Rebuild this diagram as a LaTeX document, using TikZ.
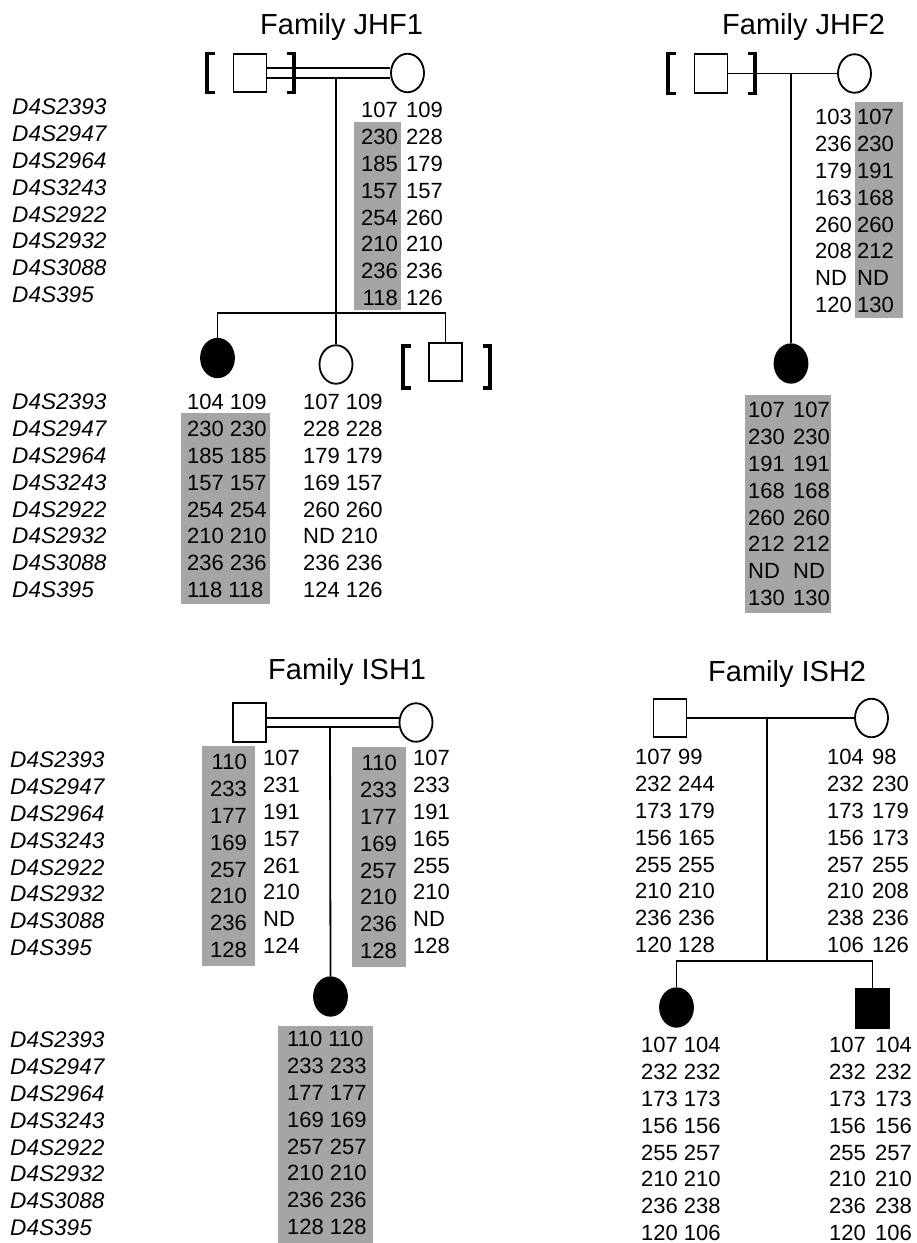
\documentclass[tikz,border=0pt]{standalone}
\usepackage{fontspec}
\setmainfont{Liberation Sans}
\usetikzlibrary{shapes.geometric,calc}
\definecolor{hapgray}{RGB}{165,165,165}
\tikzset{
  sym/.style={draw, line width=1.8pt, inner sep=0pt, minimum width=33pt, minimum height=38.5pt},
  male/.style={sym, rectangle},
  female/.style={sym, ellipse},
  affected/.style={fill=black},
  geno/.style={font=\fontsize{22}{26}\selectfont, inner sep=0pt},
  marker/.style={font=\fontsize{22.6}{26}\selectfont\itshape, inner sep=0pt, anchor=base west},
  famtitle/.style={font=\fontsize{29}{34}\selectfont, inner sep=0pt, anchor=base west},
  link/.style={line width=1.8pt},
  brk/.style={line width=3.4pt},
  hap/.style={fill=hapgray},
}
% one column of alleles: name prefix, anchor, x, y of first row, values
\newcommand\genorows[5]{%
  \foreach \t [count=\i] in {#5}{
    \node[geno, anchor=#2] (#1-\i) at (#3, {#4+26.8*(\i-1)+7.8}) {\t};
  }}
% the eight marker names
\newcommand\markerrows[3]{%
  \foreach \t [count=\i] in {D4S2393,D4S2947,D4S2964,D4S3243,D4S2922,D4S2932,D4S3088,D4S395}{
    \node[marker] (#1-\i) at (#2, {#3+26.8*(\i-1)+7.8}) {\t};
  }}
% square brackets round an individual
\newcommand\lbracket[3]{\draw[brk] (#1+7.5,#2) -- (#1,#2) -- (#1,#3) -- (#1+7.5,#3);}
\newcommand\rbracket[3]{\draw[brk] (#1-7.5,#2) -- (#1,#2) -- (#1,#3) -- (#1-7.5,#3);}

\begin{document}
\begin{tikzpicture}[x=1pt,y=-1pt]
\useasboundingbox (0,0) rectangle (917,1243);

% ---------- shaded haplotypes ----------
\fill[hap] (354,122) rectangle (401,310);
\fill[hap] (181,413) rectangle (270,604);
\fill[hap] (855,102) rectangle (903,318);
\fill[hap] (745,395) rectangle (831,613);
\fill[hap] (202,746) rectangle (255,966);
\fill[hap] (352,747) rectangle (406,967);
\fill[hap] (278,1026) rectangle (373,1243);

% ---------- Family JHF1 ----------
\node[famtitle] (t1) at (260,34.5) {Family JHF1};
\node[male] (j1f) at (250,73) {};
\node[female] (j1m) at (407.5,73) {};
\lbracket{207}{53.5}{92.5}
\rbracket{294}{53.5}{92.5}
\draw[link] ($(j1f.east)+(0,-5)$) -- ($(j1m.west)+(0,-5)$);
\draw[link] ($(j1f.east)+(0,5)$) -- ($(j1m.west)+(0,5)$);
\coordinate (j1d) at (336,78);
\coordinate (j1s) at (336,313);
\node[female,affected] (j1c1) at (217.5,358) {};
\node[female] (j1c2) at (336,364.5) {};
\node[male] (j1c3) at (445.5,362) {};
\lbracket{403}{346}{388}
\rbracket{490}{346}{388}
\draw[link] (j1d) -- (j1c2.north);
\draw[link] (j1c1.north) |- (j1s) -| (j1c3.north);

\markerrows{j1pm}{12}{107}
\genorows{j1ma}{base east}{398}{110}{107,230,185,157,254,210,236,118}
\genorows{j1mb}{base west}{406}{110}{109,228,179,157,260,210,236,126}
\markerrows{j1cm}{12}{402}
\genorows{j1ca}{base west}{187}{402}{104 109,230 230,185 185,157 157,254 254,210 210,236 236,118 118}
\genorows{j1cb}{base west}{303}{402}{107 109,228 228,179 179,169 157,260 260,ND 210,236 236,124 126}

% ---------- Family JHF2 ----------
\node[famtitle] (t2) at (722,34.5) {Family JHF2};
\node[male] (j2f) at (711,73.5) {};
\node[female] (j2m) at (854.5,73.5) {};
\lbracket{668}{53.5}{93.5}
\rbracket{755}{53.5}{93.5}
\draw[link] (j2f.east) -- (j2m.west);
\coordinate (j2d) at (791,73.5);
\node[female,affected] (j2c) at (791,363.5) {};
\draw[link] (j2d) -- (j2c.north);

\genorows{j2ma}{base west}{815}{117}{103,236,179,163,260,208,ND,120}
\genorows{j2mb}{base west}{857}{117}{107,230,191,168,260,212,ND,130}
\genorows{j2ca}{base west}{748}{410}{107,230,191,168,260,212,ND,130}
\genorows{j2cb}{base west}{793}{410}{107,230,191,168,260,212,ND,130}

% ---------- Family ISH1 ----------
\node[famtitle] (t3) at (268,679.5) {Family ISH1};
\node[male] (i1f) at (249.5,722.5) {};
\node[female] (i1m) at (416,722.5) {};
\draw[link] ($(i1f.east)+(0,-4.5)$) -- ($(i1m.west)+(0,-4.5)$);
\draw[link] ($(i1f.east)+(0,4.5)$) -- ($(i1m.west)+(0,4.5)$);
\coordinate (i1d) at (330,727);
\node[female,affected] (i1c) at (330.5,996.5) {};
\draw[link] (i1d) -- (i1c.north);

\markerrows{i1pm}{10}{760}
\genorows{i1fa}{base east}{247}{762}{110,233,177,169,257,210,236,128}
\genorows{i1fb}{base west}{263}{758}{107,231,191,157,261,210,ND,124}
\genorows{i1ma}{base east}{397}{763}{110,233,177,169,257,210,236,128}
\genorows{i1mb}{base west}{413}{758}{107,233,191,165,255,210,ND,128}
\markerrows{i1cm}{10}{1040}
\genorows{i1ca}{base west}{287}{1039}{110 110,233 233,177 177,169 169,257 257,210 210,236 236,128 128}

% ---------- Family ISH2 ----------
\node[famtitle] (t4) at (708,681.5) {Family ISH2};
\node[male] (i2f) at (670,718) {};
\node[female] (i2m) at (871.5,718) {};
\draw[link] (i2f.east) -- (i2m.west);
\coordinate (i2d) at (767,718);
\coordinate (i2s) at (767,961);
\node[female,affected] (i2c1) at (676.5,1007.5) {};
\node[male,affected] (i2c2) at (872.5,1008.5) {};
\draw[link] (i2d) -- (i2s);
\draw[link] (i2c1.north) |- (i2s) -| (i2c2.north);

\genorows{i2fa}{base west}{635}{757}{107,232,173,156,255,210,236,120}
\genorows{i2fb}{base west}{678}{757}{99,244,179,165,255,210,236,128}
\genorows{i2ma}{base west}{827}{757}{104,232,173,156,257,210,238,106}
\genorows{i2mb}{base west}{872}{757}{98,230,179,173,255,208,236,126}
\genorows{i2da}{base west}{641}{1045}{107 104,232 232,173 173,156 156,255 257,210 210,236 238,120 106}
\genorows{i2sa}{base west}{829}{1045}{107,232,173,156,255,210,236,120}
\genorows{i2sb}{base west}{875}{1045}{104,232,173,156,257,210,238,106}
\end{tikzpicture}
\end{document}
